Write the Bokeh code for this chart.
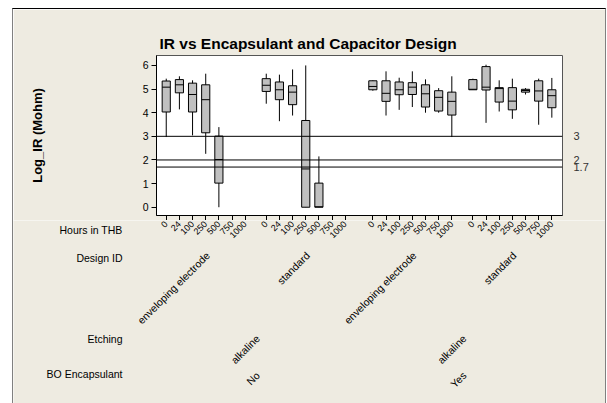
import math
from bokeh.plotting import figure
from bokeh.layouts import column
from bokeh.models import FixedTicker, Span, Range1d, ColumnDataSource, LinearAxis, NumeralTickFormatter
from bokeh.core.properties import value
from bokeh.embed import file_html
from bokeh.resources import INLINE

# ---------------- data ----------------
hours = ["0", "24", "100", "250", "500", "750", "1000"]
designs = ["enveloping electrode", "standard", "enveloping electrode", "standard"]
encapsulants = ["No", "Yes"]
etching = ["alkaline", "alkaline"]
row_titles = ["Hours in THB", "Design ID", "Etching", "BO Encapsulant"]

# groups: (No, enveloping electrode), (No, standard), (Yes, enveloping electrode), (Yes, standard)
whisker_lo = [
    [2.97, 4.14, 3.04, 2.26, 0.00, None, None],
    [4.38, 3.64, 3.88, 0.00, 0.00, None, None],
    [4.93, 3.88, 4.12, 4.24, 4.00, 4.00, 2.97],
    [4.97, 3.57, 4.05, 3.74, 4.77, 3.49, 3.79],
]
q1 = [
    [4.03, 4.84, 4.03, 3.15, 1.02, None, None],
    [4.90, 4.55, 4.34, 0.00, 0.00, None, None],
    [4.97, 4.48, 4.76, 4.77, 4.24, 4.07, 3.90],
    [4.97, 4.96, 4.45, 4.12, 4.87, 4.49, 4.21],
]
median = [
    [5.08, 5.18, 4.77, 4.55, 2.02, None, None],
    [5.16, 4.97, 4.87, 1.62, 0.02, None, None],
    [5.11, 4.82, 4.97, 5.08, 4.80, 4.65, 4.48],
    [4.99, 5.08, 5.02, 4.49, 4.94, 4.92, 4.72],
]
q3 = [
    [5.34, 5.40, 5.25, 5.18, 3.01, None, None],
    [5.44, 5.30, 5.14, 3.67, 1.02, None, None],
    [5.35, 5.35, 5.30, 5.27, 5.18, 4.93, 4.87],
    [5.40, 5.95, 5.06, 5.06, 4.99, 5.35, 4.97],
]
whisker_hi = [
    [5.44, 5.54, 5.37, 5.65, 3.39, None, None],
    [5.65, 5.61, 5.83, 6.00, 2.15, None, None],
    [5.37, 5.75, 5.48, 5.75, 5.41, 5.04, 5.54],
    [5.44, 6.03, 5.37, 5.44, 5.04, 5.44, 5.47],
]
ref_lines = [3, 2, 1.7]

# ---------------- categorical positions ----------------
STEP = 10          # distance between hours
DESIGN_GAP = 16    # gap between design groups
ENCAP_GAP = 21     # gap between encapsulant groups
BOX_W = 6.2

group_start = []
pos = 0
for g in range(4):
    group_start.append(pos)
    pos += (len(hours) - 1) * STEP + (ENCAP_GAP if g == 1 else DESIGN_GAP)
group_center = [s + (len(hours) - 1) * STEP / 2 for s in group_start]
encap_center = [(group_center[0] + group_center[1]) / 2, (group_center[2] + group_center[3]) / 2]

tick_pos, tick_lab = [], []
xs, lo, b, m, t, hi = [], [], [], [], [], []
for g in range(4):
    for i, h in enumerate(hours):
        x = group_start[g] + i * STEP
        tick_pos.append(x)
        tick_lab.append(h)
        if q1[g][i] is None:
            continue
        xs.append(x)
        lo.append(whisker_lo[g][i]); b.append(q1[g][i]); m.append(median[g][i])
        t.append(q3[g][i]); hi.append(whisker_hi[g][i])

src = ColumnDataSource(dict(x=xs, lo=lo, q1=b, med=m, q3=t, hi=hi,
                            x0=[x - BOX_W / 2 for x in xs], x1=[x + BOX_W / 2 for x in xs]))

FONT = "Liberation Sans"
BG = "#EEEBE1"
W = 592
X_START, X_END = tick_pos[0] - 7.4, tick_pos[-1] + 8.1
FRAME_L, FRAME_W = 143, 406          # frame left (canvas px) and width
UPP = (X_END - X_START) / FRAME_W    # data units per pixel

def px_to_x(cx):
    return X_START + (cx - FRAME_L) * UPP

# ---------------- main plot ----------------
p = figure(width=W, height=211, output_backend="svg", toolbar_location=None,
           x_range=Range1d(X_START, X_END), y_range=Range1d(-0.35, 6.42),
           min_border_left=FRAME_L, min_border_right=W - FRAME_L - FRAME_W,
           min_border_top=46, min_border_bottom=5)
p.frame_align = False
p.border_fill_color = BG
p.background_fill_color = "white"
p.outline_line_color = "#555555"
p.grid.visible = False

p.title.text = "IR vs Encapsulant and Capacitor Design"
p.title.text_font = FONT
p.title.text_font_size = "15.5px"
p.title.text_font_style = "bold"
p.title.text_color = "black"
p.title.align = "left"
p.title.offset = 3
p.title.standoff = 7

for v in ref_lines:
    p.add_layout(Span(location=v, dimension="width", line_color="black", line_width=1))

p.segment("x", "lo", "x", "hi", source=src, line_color="black", line_width=1)
p.vbar(x="x", width=BOX_W, bottom="q1", top="q3", source=src,
       fill_color="#C0C0C0", line_color="black", line_width=1)
p.segment("x0", "med", "x1", "med", source=src, line_color="black", line_width=1)

p.yaxis.ticker = FixedTicker(ticks=[0, 1, 2, 3, 4, 5, 6])
p.yaxis.major_label_text_font = FONT
p.yaxis.major_label_text_font_size = "10.5px"
p.yaxis.major_label_text_color = "black"
p.yaxis.major_tick_out = 5
p.yaxis.major_tick_in = 0
p.yaxis.minor_tick_line_color = None
p.yaxis.axis_line_color = "black"
p.yaxis.major_label_standoff = 3
p.yaxis.axis_label = "Log_IR (Mohm)"
p.yaxis.axis_label_text_font = FONT
p.yaxis.axis_label_text_font_size = "13px"
p.yaxis.axis_label_text_font_style = "bold"
p.yaxis.axis_label_text_color = "black"
p.yaxis.axis_label_standoff = 95

# x axis: tick marks only; the hour labels are drawn in the strip below
p.xaxis.ticker = FixedTicker(ticks=tick_pos)
p.xaxis.major_label_text_color = None
p.xaxis.major_label_text_font_size = "0px"
p.xaxis.major_label_standoff = 0
p.xaxis.major_tick_out = 5
p.xaxis.major_tick_in = 0
p.xaxis.minor_tick_line_color = None
p.xaxis.axis_line_color = "black"

ref_axis = LinearAxis(ticker=FixedTicker(ticks=ref_lines),
                      formatter=NumeralTickFormatter(format="0.[0]"),
                      axis_line_color=None, major_tick_line_color=None,
                      minor_tick_line_color=None, major_label_standoff=5,
                      major_label_text_font=FONT, major_label_text_font_size="11px",
                      major_label_text_color="#333333")
p.add_layout(ref_axis, "right")

# ---------------- category label strip (same x scale, full-width frame) ----------------
H2 = 183
q = figure(width=W, height=H2, output_backend="svg", toolbar_location=None,
           x_range=Range1d(px_to_x(0), px_to_x(W)), y_range=Range1d(H2, 0),
           x_axis_location=None, y_axis_location=None,
           min_border_left=0, min_border_right=0, min_border_top=0, min_border_bottom=0)
q.frame_align = False
q.title.visible = False
q.border_fill_color = BG
q.background_fill_color = BG
q.outline_line_color = None
q.grid.visible = False

common = dict(text_font=value(FONT), text_color="black")
# hours tick labels
q.text(x=tick_pos, y=[2] * len(tick_pos), text=tick_lab, angle=math.pi / 4,
       text_align="right", text_baseline="middle", text_font_size=value("9px"), **common)
# design labels
q.text(x=group_center, y=[33] * 4, text=designs, angle=math.pi / 4, x_offset=2,
       text_align="right", text_baseline="middle", text_font_size=value("10.5px"), **common)
# etching labels
q.text(x=encap_center, y=[116] * 2, text=etching, angle=math.pi / 4, x_offset=2,
       text_align="right", text_baseline="middle", text_font_size=value("10.5px"), **common)
# encapsulant labels
q.text(x=encap_center, y=[153] * 2, text=encapsulants, angle=math.pi / 4, x_offset=2,
       text_align="right", text_baseline="middle", text_font_size=value("10.5px"), **common)
# row titles
q.text(x=[px_to_x(109)] * 4, y=[9, 37, 118, 153], text=row_titles,
       text_align="right", text_baseline="middle", text_font_size=value("10.5px"), **common)

layout = column(p, q, spacing=0)
layout.margin = (8, 0, 0, 12)
layout.styles = {"border-top": "1px solid #000000", "border-left": "1px solid #808080",
                 "border-right": "1px solid #808080"}

open("out.html", "w").write(file_html(layout, INLINE))
